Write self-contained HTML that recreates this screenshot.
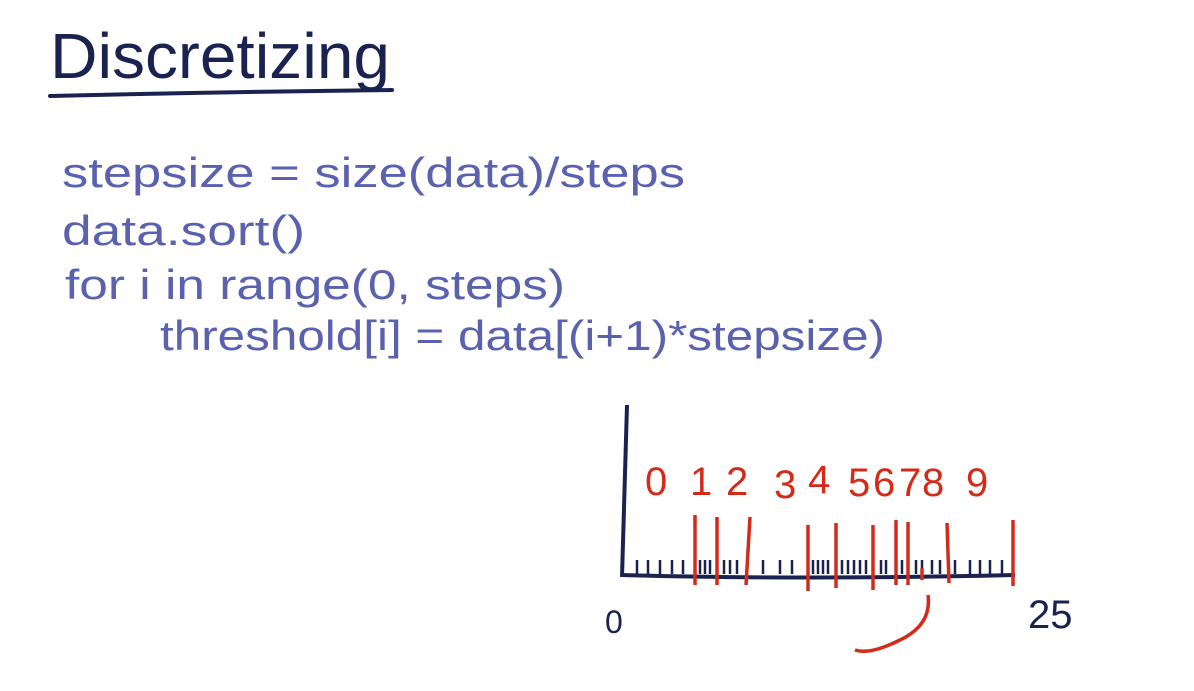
<!DOCTYPE html>
<html><head><meta charset="utf-8"><style>
html,body{margin:0;padding:0;background:#fff;}
svg{display:block}
</style></head><body>
<svg width="1194" height="691" xmlns="http://www.w3.org/2000/svg">
<rect width="1194" height="691" fill="#fff"/>
<text x="50" y="78" font-family="Liberation Sans, sans-serif" font-size="64" fill="#1a2250" textLength="340" lengthAdjust="spacingAndGlyphs">Discretizing</text>
<path d="M50 96 Q220 92 392 90" stroke="#1a2250" stroke-width="4" fill="none" stroke-linecap="round"/>
<g font-family="Liberation Sans, sans-serif" font-size="42" fill="#5a62b0">
<text x="62" y="187" textLength="623" lengthAdjust="spacingAndGlyphs">stepsize = size(data)/steps</text>
<text x="62" y="245" textLength="243" lengthAdjust="spacingAndGlyphs">data.sort()</text>
<text x="65" y="299" textLength="500" lengthAdjust="spacingAndGlyphs">for i in range(0, steps)</text>
<text x="160" y="350" textLength="725" lengthAdjust="spacingAndGlyphs">threshold[i] = data[(i+1)*stepsize)</text>
</g>
<path d="M627 405 L622 577" stroke="#1a2250" stroke-width="4" fill="none"/>
<path d="M622 575 Q800 580 1015 575" stroke="#1a2250" stroke-width="4" fill="none"/>
<g stroke="#1a2250" stroke-width="2.5">
<path d="M637 560v14M648 560v14M660 560v14M672 560v14M683 560v14M700 560v14M705 560v14M710 560v14M724 560v14M730 560v14M737 560v14M763 560v14M780 560v14M792 560v14M813 560v14M818 560v14M823 560v14M828 560v14M842 560v14M848 560v14M854 560v14M860 560v14M866 560v14M881 560v14M886 560v14M902 560v14M916 560v14M922 560v14M932 560v14M940 560v14M955 560v14M970 560v14M980 560v14M990 560v14M1002 560v14"/>
</g>
<g stroke="#d42a1a" stroke-width="3.5" fill="none">
<path d="M695 515v30M695 545v40M717 517v68M750 517L746 585M808 525v28M808 553v38M836 523v65M873 525v65M896 520v65M908 522v63M947 523l2 60M1013 520v66M922 568v12"/>
<path d="M928 595 Q932 625 900 640 Q870 655 855 650"/>
</g>
<g font-family="Liberation Sans, sans-serif" font-size="40" fill="#d42a1a">
<text x="645" y="495">0</text><text x="690" y="495">1</text><text x="726" y="495">2</text>
<text x="774" y="498">3</text><text x="808" y="493">4</text><text x="848" y="496">5</text>
<text x="873" y="496">6</text><text x="899" y="496">7</text><text x="922" y="496">8</text>
<text x="966" y="496">9</text>
</g>
<text x="605" y="633" font-family="Liberation Sans, sans-serif" font-size="32" fill="#1a2250">0</text>
<text x="1028" y="628" font-family="Liberation Sans, sans-serif" font-size="40" fill="#1a2250">25</text>
</svg>
</body></html>
